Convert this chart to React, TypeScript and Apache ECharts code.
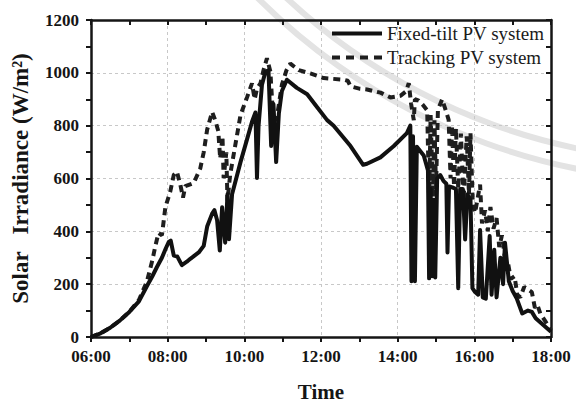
import React, { useEffect, useRef } from "react";
import * as echarts from "echarts";

// ---- data (time in decimal hours, irradiance in W/m2) ----
const fixedTime = [
  6.0, 6.25, 6.5, 6.75, 7.0, 7.25, 7.45, 7.6, 7.72, 7.85, 7.95, 8.03, 8.08, 8.16, 8.25, 8.37, 8.5, 8.59, 8.81, 8.94,
  9.03, 9.16, 9.22, 9.29, 9.36, 9.42, 9.5, 9.56, 9.6, 9.68, 9.9, 10.07, 10.2, 10.29, 10.33, 10.37, 10.46, 10.55, 10.63, 10.7,
  10.76, 10.83, 10.9, 10.98, 11.11, 11.37, 11.64, 11.9, 12.16, 12.33, 12.77, 13.1, 13.2, 13.55, 13.9, 14.24, 14.33, 14.36, 14.4, 14.45,
  14.5, 14.68, 14.79, 14.82, 14.86, 14.9, 14.94, 14.98, 15.03, 15.11, 15.2, 15.27, 15.3, 15.34, 15.45, 15.52, 15.58, 15.63, 15.7, 15.76,
  15.82, 15.9, 15.95, 16.02, 16.1, 16.15, 16.22, 16.3, 16.4, 16.45, 16.52, 16.58, 16.68, 16.75, 16.8, 16.9, 17.0, 17.1, 17.25, 17.4,
  17.5, 17.6, 17.8, 18.0,
];
const fixedValue = [
  0, 14, 35, 62, 95, 135, 190, 230, 265, 300, 335, 360, 365, 308, 305, 272, 285, 296, 320, 345,
  418, 467, 480, 442, 327, 491, 357, 540, 370, 540, 662, 748, 815, 850, 602, 797, 955, 1004, 1010, 723,
  882, 662, 845, 931, 974, 943, 919, 870, 821, 800, 723, 652, 656, 680, 723, 772, 800, 211, 760, 211,
  720, 687, 630, 222, 560, 230, 520, 225, 600, 613, 590, 580, 320, 570, 565, 560, 185, 560, 560, 369,
  540, 520, 185, 170, 160, 405, 150, 145, 382, 160, 330, 150, 300, 200, 357, 211, 174, 148, 89, 100,
  95, 71, 45, 20,
];

const trackTime = [
  6.0, 6.25, 6.5, 6.75, 7.0, 7.25, 7.46, 7.6, 7.68, 7.76, 7.85, 7.94, 8.07, 8.16, 8.24, 8.33, 8.4, 8.46, 8.68, 8.85,
  8.94, 9.03, 9.16, 9.24, 9.32, 9.37, 9.43, 9.46, 9.53, 9.56, 9.63, 9.76, 9.9, 10.07, 10.2, 10.27, 10.33, 10.42, 10.5, 10.59,
  10.68, 10.76, 10.85, 10.98, 11.1, 11.2, 11.42, 11.72, 12.07, 12.59, 12.7, 12.77, 13.0, 13.2, 13.55, 13.81, 14.07, 14.22, 14.29, 14.35,
  14.42, 14.45, 14.55, 14.65, 14.77, 14.82, 14.86, 14.92, 14.96, 15.0, 15.05, 15.16, 15.25, 15.33, 15.38, 15.42, 15.47, 15.52, 15.58, 15.65,
  15.72, 15.8, 15.86, 15.9, 15.96, 16.02, 16.08, 16.15, 16.2, 16.28, 16.35, 16.42, 16.5, 16.58, 16.65, 16.72, 16.8, 16.88, 16.95, 17.05,
  17.12, 17.2, 17.3, 17.4, 17.5, 17.58, 17.65, 17.72, 17.85, 18.0,
];
const trackValue = [
  0, 14, 35, 62, 95, 140, 211, 290, 345, 394, 385, 491, 552, 614, 626, 577, 528, 571, 583, 638,
  699, 785, 852, 821, 780, 675, 760, 601, 699, 516, 614, 723, 840, 907, 960, 900, 940, 960, 1010, 1055,
  1004, 809, 833, 955, 1010, 1035, 1010, 998, 980, 974, 970, 949, 940, 937, 925, 907, 913, 930, 961, 883,
  821, 900, 895, 880, 858, 520, 840, 530, 820, 560, 860, 900, 860, 822, 600, 800, 570, 790, 560, 770,
  520, 760, 540, 771, 500, 470, 520, 577, 430, 480, 400, 492, 410, 450, 340, 385, 300, 280, 220, 230,
  160, 150, 190, 180, 170, 110, 120, 89, 60, 25,
];

const xTickLabels = ["06:00", "08:00", "10:00", "12:00", "14:00", "16:00", "18:00"];
const seriesNames = ["Fixed-tilt PV system", "Tracking PV system"];

const FONT = "'Liberation Serif', 'Times New Roman', serif";
const INK = "#151515";

export default function App() {
  const ref = useRef<HTMLDivElement>(null);

  useEffect(() => {
    document.body.style.margin = "0";
    if (!ref.current) return;
    const chart = echarts.init(ref.current, undefined, { renderer: "svg" });

    const axisLine = { show: true, onZero: false, lineStyle: { color: INK, width: 2.5 } };
    const tickStyle = { color: INK, width: 2 };
    const deg = Math.PI / 180;

    chart.setOption({
      animation: false,
      backgroundColor: "#ffffff",
      grid: { left: 91, right: 25, top: 20, bottom: 60, containLabel: false },
      legend: {
        orient: "vertical",
        left: 327,
        top: 19,
        itemWidth: 50,
        itemHeight: 4,
        itemGap: 5,
        textStyle: { fontFamily: FONT, fontSize: 19, color: "#1a1a1a", lineHeight: 18 },
        data: [
          { name: seriesNames[0], icon: "rect" },
          {
            name: seriesNames[1],
            icon: "path://M0,0H8V4H0Z M14,0H22V4H14Z M28,0H36V4H28Z M42,0H50V4H42Z",
          },
        ],
      },
      graphic: [
        {
          type: "arc",
          z: -10,
          silent: true,
          shape: { cx: 700, cy: -445, r: 606, startAngle: 80 * deg, endAngle: 140 * deg },
          style: { stroke: "#e3e3e3", lineWidth: 6, fill: "none" },
        },
        {
          type: "arc",
          z: -10,
          silent: true,
          shape: { cx: 700, cy: -445, r: 626, startAngle: 80 * deg, endAngle: 140 * deg },
          style: { stroke: "#e3e3e3", lineWidth: 6, fill: "none" },
        },
      ],
      xAxis: [
        {
          type: "value",
          position: "bottom",
          min: 6,
          max: 18,
          interval: 2,
          name: "Time",
          nameLocation: "middle",
          nameGap: 44,
          nameTextStyle: { fontFamily: FONT, fontSize: 21, fontWeight: "bold", color: INK },
          axisLine,
          axisTick: { show: true, inside: false, length: 5, lineStyle: tickStyle },
          minorTick: { show: true, splitNumber: 2, length: 5, lineStyle: tickStyle },
          splitLine: { show: true, lineStyle: { color: "#c8c8c8", width: 1, type: [3, 3] } },
          axisLabel: {
            fontFamily: FONT,
            fontSize: 17,
            fontWeight: "bold",
            color: INK,
            margin: 11,
            formatter: (v: number) => xTickLabels[Math.round((v - 6) / 2)] ?? "",
          },
        },
        {
          type: "value",
          position: "top",
          min: 6,
          max: 18,
          interval: 2,
          axisLine,
          axisTick: { show: true, inside: true, length: 5, lineStyle: tickStyle },
          minorTick: { show: true, splitNumber: 2, length: 5, lineStyle: tickStyle },
          splitLine: { show: false },
          axisLabel: { show: false },
        },
      ],
      yAxis: [
        {
          type: "value",
          position: "left",
          min: 0,
          max: 1200,
          interval: 200,
          name: "Solar   Irradiance (W/m²)",
          nameLocation: "middle",
          nameGap: 59,
          nameTextStyle: { fontFamily: FONT, fontSize: 23, fontWeight: "bold", color: INK },
          axisLine,
          axisTick: { show: true, inside: false, length: 5, lineStyle: tickStyle },
          minorTick: { show: true, splitNumber: 2, length: 5, lineStyle: tickStyle },
          splitLine: { show: true, lineStyle: { color: "#c8c8c8", width: 1, type: [3, 3] } },
          axisLabel: {
            fontFamily: FONT,
            fontSize: 17,
            fontWeight: "bold",
            color: INK,
            margin: 12,
            formatter: (v: number) => String(v),
          },
        },
        {
          type: "value",
          position: "right",
          min: 0,
          max: 1200,
          interval: 200,
          axisLine,
          axisTick: { show: true, inside: true, length: 5, lineStyle: tickStyle },
          minorTick: { show: true, splitNumber: 2, length: 5, lineStyle: tickStyle },
          splitLine: { show: false },
          axisLabel: { show: false },
        },
      ],
      series: [
        {
          name: seriesNames[0],
          type: "line",
          xAxisIndex: 0,
          yAxisIndex: 0,
          symbol: "none",
          z: 3,
          lineStyle: { color: "#111111", width: 4, join: "round" },
          itemStyle: { color: "#111111" },
          data: fixedTime.map((t, i) => [t, fixedValue[i]]),
        },
        {
          name: seriesNames[1],
          type: "line",
          xAxisIndex: 0,
          yAxisIndex: 0,
          symbol: "none",
          z: 2,
          lineStyle: { color: "#1e1e1e", width: 4, type: [7, 5] },
          itemStyle: { color: "#1e1e1e" },
          data: trackTime.map((t, i) => [t, trackValue[i]]),
        },
      ],
    });

    return () => chart.dispose();
  }, []);

  return <div ref={ref} style={{ width: 576, height: 407 }} />;
}
